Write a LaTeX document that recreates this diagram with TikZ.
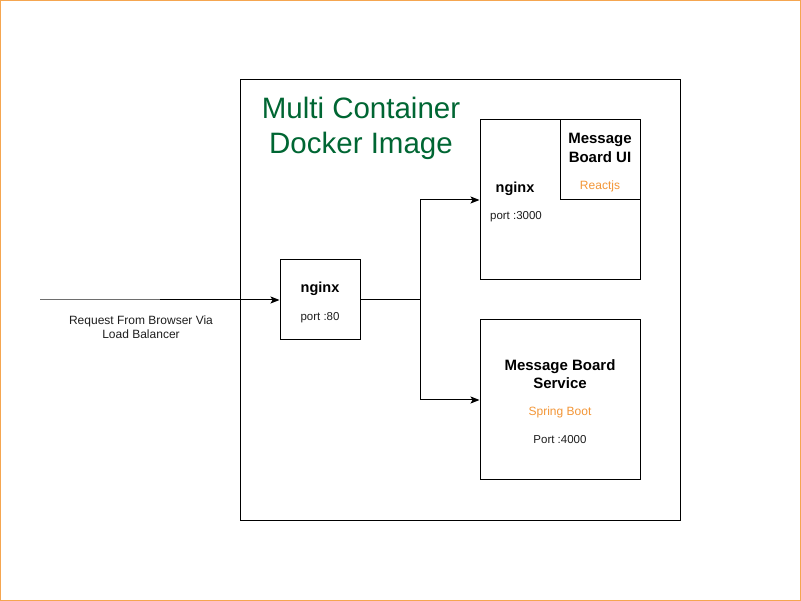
\documentclass[tikz,border=0pt]{standalone}
\usepackage{fontspec}
\setmainfont{Liberation Sans}
\usetikzlibrary{arrows.meta}
\definecolor{frameorange}{RGB}{245,166,80}
\definecolor{titlegreen}{RGB}{0,102,51}
\definecolor{techorange}{RGB}{243,150,55}
\definecolor{txtgray}{RGB}{30,30,30}
\tikzset{
  box/.style={draw=black, line width=1pt, fill=white, inner sep=0pt},
  conn/.style={draw=black, line width=1pt, -{Stealth[length=9pt,width=7pt,inset=2pt]}},
  bold/.style={font=\fontsize{15}{18.5}\selectfont\bfseries, text=black, align=center, inner sep=0pt},
  small/.style={font=\fontsize{11.5}{14}\selectfont, text=txtgray, align=center, inner sep=0pt},
  tech/.style={font=\fontsize{12}{14}\selectfont, text=techorange, align=center, inner sep=0pt},
}
\begin{document}
\begin{tikzpicture}[x=1pt,y=-1pt]
\useasboundingbox (0,0) rectangle (801,601);
\draw[frameorange, line width=1.2pt] (0.6,0.6) rectangle (800.4,600.4);
% main container
\node[box, minimum width=440pt, minimum height=440pt] (main) at (460,300) {};
\node[font=\fontsize{29.5}{35}\selectfont, text=titlegreen, align=center, inner sep=0pt] (title) at (361,128.5) {Multi Container\\Docker Image};
% front nginx
\node[box, minimum width=80pt, minimum height=80pt] (ngx) at (320,300) {};
\node[bold, font=\fontsize{14.5}{17}\selectfont\bfseries] (ngxname) at (320,288.5) {nginx};
\node[small] (ngxport) at (320,318) {port :80};
% UI container
\node[box, minimum width=160pt, minimum height=160pt] (ui) at (560,200) {};
\node[box, minimum width=80pt, minimum height=80pt] (uiin) at (600,160) {};
\node[bold] (uiname) at (600,148) {Message\\Board UI};
\node[tech] (react) at (600,186) {Reactjs};
\node[bold, font=\fontsize{14.5}{17}\selectfont\bfseries] (uingx) at (515,188.5) {nginx};
\node[small] (uiport) at (516,217) {port :3000};
% service container
\node[box, minimum width=160pt, minimum height=160pt] (svc) at (560,400) {};
\node[bold] (svcname) at (560,374) {Message Board\\Service};
\node[tech] (spring) at (560,412) {Spring Boot};
\node[small] (svcport) at (560,440) {Port :4000};
% incoming request
\coordinate (start) at (40,300);
\coordinate (mid) at (160,300);
\draw[draw={rgb,255:red,110;green,110;blue,110}, line width=1pt] (start) -- (mid);
\draw[conn] (mid) -- (ngx.west);
\node[small, font=\fontsize{12}{14}\selectfont] (req) at (141,327) {Request From Browser Via\\Load Balancer};
% routing
\coordinate (split) at (420,300);
\draw[conn] (ngx.east) -- (split) |- (ui.west);
\draw[conn] (split) |- (svc.west);
\end{tikzpicture}
\end{document}
